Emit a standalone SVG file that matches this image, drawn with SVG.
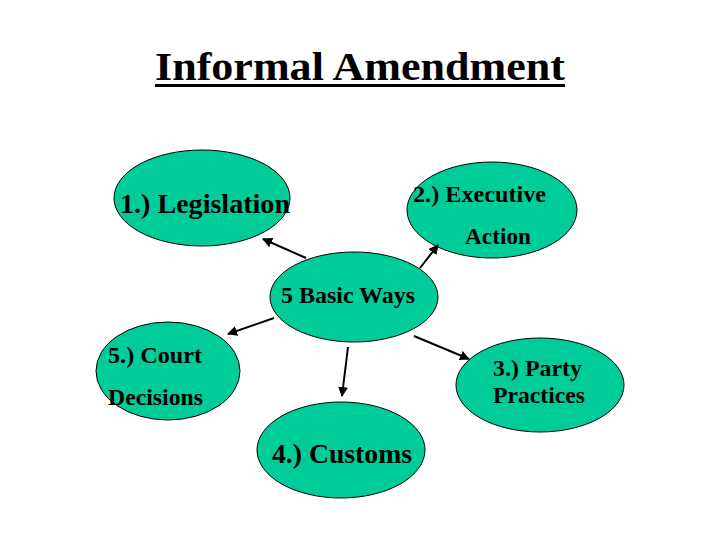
<svg xmlns="http://www.w3.org/2000/svg" width="720" height="540" viewBox="0 0 720 540">
<defs>
<style>
.n ellipse{fill:#00cc99;stroke:#000;stroke-width:1}
text{font-family:"Liberation Serif","Times New Roman",serif;font-weight:bold;fill:#000}
.c line{stroke:#000;stroke-width:2;marker-end:url(#ah)}
</style>
<marker id="ah" viewBox="0 0 10 10" refX="9" refY="5" markerWidth="5" markerHeight="5" orient="auto" markerUnits="strokeWidth">
<path d="M0,0 L10,5 L0,10 z" fill="#000"/>
</marker>
</defs>
<rect width="720" height="540" fill="#fff"/>
<g id="title">
<text x="155" y="80" font-size="41" textLength="410" lengthAdjust="spacingAndGlyphs">Informal Amendment</text>
<rect x="155" y="84" width="410" height="3" fill="#000"/>
</g>
<g id="legislation" class="n">
<ellipse cx="202" cy="198" rx="88" ry="48"/>
<text x="120" y="213" font-size="28" textLength="170" lengthAdjust="spacingAndGlyphs">1.) Legislation</text>
</g>
<g id="executive" class="n">
<ellipse cx="492" cy="210" rx="85" ry="48"/>
<text x="413" y="202" font-size="23" textLength="133" lengthAdjust="spacingAndGlyphs">2.) Executive</text>
<text x="465" y="244" font-size="23" textLength="66" lengthAdjust="spacingAndGlyphs">Action</text>
</g>
<g id="basic" class="n">
<ellipse cx="354" cy="297" rx="84" ry="45"/>
<text x="281" y="303" font-size="23" textLength="134" lengthAdjust="spacingAndGlyphs">5 Basic Ways</text>
</g>
<g id="court" class="n">
<ellipse cx="168" cy="371" rx="72" ry="49"/>
<text x="108" y="363" font-size="23" textLength="94" lengthAdjust="spacingAndGlyphs">5.) Court</text>
<text x="108" y="405" font-size="23" textLength="95" lengthAdjust="spacingAndGlyphs">Decisions</text>
</g>
<g id="party" class="n">
<ellipse cx="540" cy="385" rx="84" ry="47"/>
<text x="493" y="376" font-size="23" textLength="89" lengthAdjust="spacingAndGlyphs">3.) Party</text>
<text x="493" y="403" font-size="23" textLength="92" lengthAdjust="spacingAndGlyphs">Practices</text>
</g>
<g id="customs" class="n">
<ellipse cx="341" cy="450" rx="84" ry="48"/>
<text x="272" y="463" font-size="27" textLength="140" lengthAdjust="spacingAndGlyphs">4.) Customs</text>
</g>
<g id="connectors" class="c">
<line x1="306" y1="258" x2="263" y2="239"/>
<line x1="420" y1="268" x2="438" y2="245"/>
<line x1="274" y1="318" x2="228" y2="334"/>
<line x1="414" y1="336" x2="469" y2="359"/>
<line x1="348" y1="347" x2="342" y2="396"/>
</g>
</svg>
